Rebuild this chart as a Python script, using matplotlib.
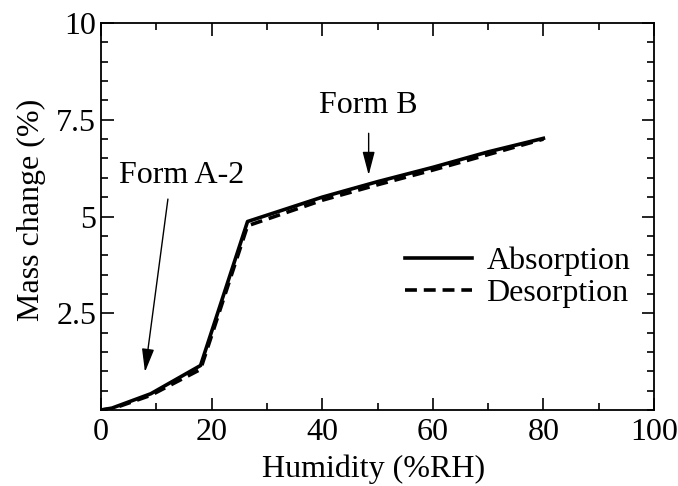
import matplotlib
matplotlib.use("Agg")
import matplotlib.pyplot as plt
from matplotlib.ticker import MultipleLocator

plt.rcParams['font.family'] = ['Liberation Serif', 'DejaVu Serif']

# data
rh_abs = [0, 2, 9, 18, 26.5, 40, 50, 60, 70, 80]
mass_abs = [0, 0.05, 0.42, 1.15, 4.87, 5.5, 5.9, 6.27, 6.67, 7.02]
rh_des = [0, 2, 9, 18, 26.5, 40, 50, 60, 70, 80]
mass_des = [0, 0.03, 0.38, 1.05, 4.76, 5.42, 5.82, 6.2, 6.6, 7.0]

yticks = [2.5, 5, 7.5, 10]
ytick_labels = ["2.5", "5", "7.5", "10"]

fs = 23
fig = plt.figure(figsize=(6.78, 4.86), dpi=100)
ax = fig.add_axes([101/678, 1-410/486, 553/678, 387/486])

ax.plot(rh_abs, mass_abs, color='black', lw=2.6, label='Absorption')
ax.plot(rh_des, mass_des, color='black', lw=2.6, ls=(0, (3.3, 1.9)), label='Desorption')

ax.set_xlim(0, 100)
ax.set_ylim(0, 10)
ax.set_xticks([0, 20, 40, 60, 80, 100])
ax.set_yticks(yticks)
ax.set_yticklabels(ytick_labels)
ax.xaxis.set_minor_locator(MultipleLocator(10))
ax.yaxis.set_minor_locator(MultipleLocator(0.5))
ax.tick_params(which='both', direction='in', top=True, right=True, labelsize=fs, width=1.2)
ax.tick_params(which='major', length=9)
ax.tick_params(which='minor', length=5)
ax.tick_params(axis='x', which='major', pad=6)
for s in ax.spines.values():
    s.set_linewidth(1.3)

ax.set_xlabel('Humidity (%RH)', fontsize=fs, labelpad=5)
ax.set_ylabel('Mass change (%)', fontsize=fs, labelpad=7)
ax.xaxis.label.set_x(0.492)
ax.yaxis.label.set_y(0.517)

arrow = dict(arrowstyle='-|>,head_length=0.65,head_width=0.17', color='black',
             lw=1.0, mutation_scale=22, shrinkA=0, shrinkB=0)
ax.text(14.5, 5.87, 'Form A-2', fontsize=fs, ha='center', va='baseline')
ax.annotate('', xy=(7.95, 0.98), xytext=(12.1, 5.45), arrowprops=arrow)
ax.text(48.4, 7.67, 'Form B', fontsize=fs, ha='center', va='baseline')
ax.annotate('', xy=(48.4, 6.07), xytext=(48.4, 7.15), arrowprops=arrow)

ax.legend(loc='center left', bbox_to_anchor=(405/678, 1 - 277/486),
          bbox_transform=fig.transFigure, frameon=False,
          fontsize=fs, handlelength=2.1, handletextpad=0.45, labelspacing=0.08,
          borderpad=0, borderaxespad=0)

fig.savefig('out.png', dpi=100)
